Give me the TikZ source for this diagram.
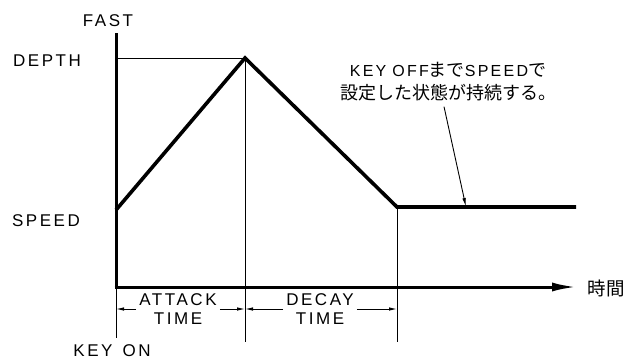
\documentclass[tikz,border=0pt]{standalone}
\usepackage{fontspec}
\setmainfont{Liberation Sans}
\newfontfamily\jpfont{Noto Sans CJK JP}
\usetikzlibrary{arrows.meta}
\newcommand{\latn}[1]{{\normalfont\fontsize{16}{23}\selectfont\addfontfeature{LetterSpace=14}#1}}

\begin{document}
\begin{tikzpicture}[x=1pt,y=-1pt,
  lbl/.style={font=\fontsize{17}{19}\selectfont\addfontfeature{LetterSpace=15},inner sep=0pt,align=center},
  jp/.style={font=\jpfont\fontsize{18}{23}\selectfont,inner sep=0pt,align=center},
  curve/.style={line width=3.6pt,line join=miter},
  axis/.style={line width=3pt},
  thin/.style={line width=0.9pt},
  dim/.style={line width=0.9pt,-{Latex[length=8pt,width=3.5pt]}}]
\useasboundingbox (0,0) rectangle (628,362);
% points
\coordinate (O) at (116,287);
\coordinate (top) at (116,33);
\coordinate (xend) at (577,287);
\coordinate (start) at (116,210);
\coordinate (peak) at (245,58);
\coordinate (sus) at (397,207);
\coordinate (susend) at (576,207);
\coordinate (keyon) at (116,338);
\coordinate (pk) at (245,342);
\coordinate (sk) at (397,342);
\coordinate (tgt) at (466,207);
% Axes
\draw[axis] (O) -- (top); % y axis
\draw[axis,-{Latex[length=25pt,width=9pt]}] ([xshift=-1.5pt]O) -- (xend); % time axis
% Envelope
\draw[thin] (top |- peak) -- (peak); % depth level
\draw[curve] (start) -- (peak) -- (sus) -- (susend);
% Guides
\draw[thin] (O) -- (keyon);
\draw[thin] (peak) -- (pk);
\draw[thin] (sus) -- (sk);
% Labels
\node[lbl] (fast) at (108,21) {FAST};
\node[lbl] (depth) at (47,61) {DEPTH};
\node[lbl] (speed) at (46,221) {SPEED};
\node[lbl] (key) at (112,351) {KEY\hspace{10pt}ON};
\node[jp,font=\jpfont\fontsize{18.5}{18.5}\selectfont] (time) at (606,288) {時間};
% Dimensions
\node[lbl] (atk) at (178,309) {ATTACK\\TIME};
\node[lbl] (dec) at (320,309) {DECAY\\TIME};
\draw[dim] ([xshift=-3pt]atk.west) -- (keyon |- atk.west);
\draw[dim] ([xshift=3pt]atk.east) -- (pk |- atk.east);
\draw[dim] ([xshift=-3pt]dec.west) -- (pk |- dec.west);
\draw[dim] ([xshift=3pt]dec.east) -- (sk |- dec.east);
% Note
\node[jp] (note) at (448,82) {\latn{KEY\hspace{6pt}OFF}まで\latn{SPEED}で\\設定した状態が持続する。};
\draw[thin,-{Latex[length=9pt,width=3.5pt]}] ([shift={(-4,5)}]note.south) -- (tgt);
\end{tikzpicture}
\end{document}
